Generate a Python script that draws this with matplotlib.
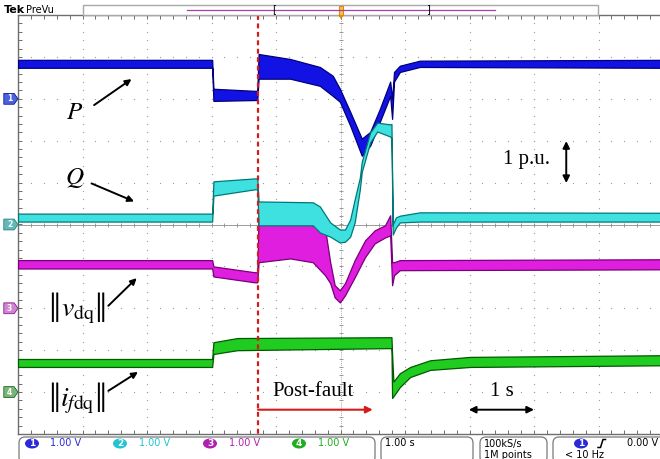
import numpy as np
import matplotlib.pyplot as plt
from matplotlib.patches import FancyBboxPatch, Polygon, Ellipse, Rectangle

plt.rcParams['mathtext.fontset'] = 'stix'

# scope settings
ch_labels = ['1', '2', '3', '4']
ch_offsets = [3.0, 0.0, -2.0, -4.0]          # ground markers, divisions
ch_scales = ['1.00 V', '1.00 V', '1.00 V', '1.00 V']
time_scale = '1.00 s'
sample_rate = '100kS/s'
record_len = '1M points'
trig_level = '0.00 V'
trig_filter = '< 10 Hz'
t_fault = -1.28                                # s, fault instant

ch_core = ['#1212e4', '#3ee0e0', '#e01ee0', '#20cc20']
ch_edge = ['#00007c', '#007878', '#780078', '#005a00']
ch_text = ['#2a2ad8', '#22c4d0', '#b020b0', '#1eae1e']
tag_fill = ['#4a62e0', '#66b8b8', '#d284d2', '#78b478']

# trace envelopes: time (s), lower / upper level (V, relative to ground marker)
p_t = [-5.0, -1.99, -1.97, -1.33, -1.29, -1.27, -0.78, -0.32, -0.12, -0.01,
       0.15, 0.33, 0.46, 0.61, 0.77, 0.80, 0.83, 0.92, 1.23, 5.0]
p_lo = [0.74, 0.74, -0.05, -0.03, -0.03, 0.48, 0.48, 0.31, 0.07, -0.07,
        -0.64, -1.36, -1.12, -0.55, 0.07, -0.48, 0.41, 0.64, 0.76, 0.74]
p_hi = [0.93, 0.93, 0.24, 0.19, 0.19, 1.07, 0.95, 0.76, 0.55, 0.24,
        -0.31, -0.95, -0.79, -0.24, 0.41, 0.0, 0.64, 0.79, 0.91, 0.93]

q_t = [-5.0, -1.99, -1.97, -1.33, -1.29, -1.27, -0.43, -0.32, -0.16, -0.01,
       0.07, 0.15, 0.22, 0.30, 0.33, 0.46, 0.57, 0.77, 0.79, 0.81, 0.86,
       0.92, 1.23, 5.0]
q_lo = [0.07, 0.07, 0.69, 0.84, 0.84, -0.02, -0.02, -0.19, -0.29, -0.43,
        -0.41, -0.29, 0.05, 0.84, 1.26, 1.96, 2.22, 2.10, 2.05, -0.24, -0.07,
        0.05, 0.07, 0.07]
q_hi = [0.26, 0.26, 1.03, 1.10, 1.10, 0.55, 0.53, 0.43, 0.05, -0.12,
        -0.12, 0.12, 0.60, 1.12, 1.50, 2.20, 2.43, 2.39, 2.40, 0.0, 0.17,
        0.21, 0.29, 0.28]

v_t = [-5.0, -1.99, -1.97, -1.33, -1.29, -1.27, -0.78, -0.43, -0.24, -0.16,
       -0.09, -0.01, 0.07, 0.22, 0.38, 0.53, 0.69, 0.77, 0.80, 0.83, 0.92, 5.0]
v_lo = [0.95, 0.95, 0.76, 0.62, 0.62, 1.10, 1.19, 1.10, 0.79, 0.60,
        0.26, 0.14, 0.31, 0.74, 1.22, 1.55, 1.69, 1.74, 0.55, 0.79, 0.91, 0.93]
v_hi = [1.15, 1.15, 1.00, 0.86, 0.86, 2.22, 2.15, 1.98, 1.91, 1.10,
        0.55, 0.43, 0.60, 1.15, 1.62, 1.86, 1.98, 2.22, 1.10, 1.10, 1.15, 1.17]

i_t = [-5.0, -1.99, -1.97, -1.6, 0.79, 0.80, 0.82, 0.92, 1.08, 1.39, 2.01, 5.0]
i_lo = [0.60, 0.60, 0.91, 1.00, 1.05, -0.14, -0.10, 0.12, 0.36, 0.53, 0.60, 0.64]
i_hi = [0.79, 0.79, 1.19, 1.29, 1.31, 0.90, 0.25, 0.45, 0.60, 0.76, 0.84, 0.88]

traces = [(p_t, p_lo, p_hi), (q_t, q_lo, q_hi), (v_t, v_lo, v_hi), (i_t, i_lo, i_hi)]
draw_order = [3, 2, 0, 1]

fig = plt.figure(figsize=(6.6, 4.59), dpi=100)
ax = fig.add_axes([18 / 660, 25 / 459, 645 / 660, 419 / 459])
ax.set_xlim(-5, 5)
ax.set_ylim(-5, 5)
ax.axis('off')

# graticule: dotted grid, centre cross with ticks, ruled edges
minor = np.arange(-5, 5.001, 0.2)
for g in range(-4, 5):
    if g == 0:
        continue
    ax.plot(np.full_like(minor, g), minor, ls='none', marker='o', ms=0.9,
            mec='none', mfc='#9c9c9c', zorder=1)
    ax.plot(minor, np.full_like(minor, g), ls='none', marker='o', ms=0.9,
            mec='none', mfc='#9c9c9c', zorder=1)
ax.axhline(0, color='#8c8c8c', lw=0.6, zorder=1)
ax.axvline(0, color='#8c8c8c', lw=0.6, ls=(0, (1, 1.5)), zorder=1)
ax.plot(minor, np.zeros_like(minor), ls='none', marker='|', ms=3.5, mew=0.6,
        color='#8c8c8c', zorder=1)
ax.plot(np.zeros_like(minor), minor, ls='none', marker='_', ms=3.5, mew=0.6,
        color='#8c8c8c', zorder=1)
ax.plot([-5, 5.2], [5, 5], color='#6e6e6e', lw=1.0, clip_on=False)
ax.plot([-5, 5.2], [-5, -5], color='#6e6e6e', lw=1.0, clip_on=False)
ax.plot([-5, -5], [-5, 5], color='#6e6e6e', lw=1.0, clip_on=False)
ax.plot(minor, np.full_like(minor, 5), ls='none', marker=3, ms=3, mew=0.7,
        color='#6e6e6e', clip_on=False)
ax.plot(minor, np.full_like(minor, -5), ls='none', marker=2, ms=3, mew=0.7,
        color='#6e6e6e', clip_on=False)
ax.plot(np.full_like(minor, -5), minor, ls='none', marker=1, ms=3, mew=0.7,
        color='#6e6e6e', clip_on=False)

# waveforms
for k in draw_order:
    t, lo, hi = traces[k]
    off = ch_offsets[k]
    ax.fill_between(t, np.add(lo, off), np.add(hi, off), facecolor=ch_core[k],
                    edgecolor=ch_edge[k], lw=0.9, zorder=3 + draw_order.index(k))

# ground markers on the left edge
for k, off in enumerate(ch_offsets):
    tag = Polygon([(-5.22, off + 0.13), (-5.06, off + 0.13), (-5.0, off),
                   (-5.06, off - 0.13), (-5.22, off - 0.13)], closed=True,
                  facecolor=tag_fill[k], edgecolor=ch_edge[k], lw=0.5,
                  clip_on=False, zorder=6)
    ax.add_patch(tag)
    ax.text(-5.13, off, ch_labels[k], color='white', fontsize=5.5,
            fontweight='bold', ha='center', va='center', clip_on=False, zorder=7)

# fault instant
ax.plot([t_fault, t_fault], [5, -5.28], color='#d41c1c', lw=1.6,
        ls=(0, (2.2, 1.6)), clip_on=False, zorder=8)

# signal labels
arrow_k = dict(arrowstyle='-|>', color='black', lw=1.4, mutation_scale=9,
               shrinkA=0, shrinkB=0)
ax.text(-4.12, 2.69, r'$P$', fontsize=18, ha='center', va='center')
ax.annotate('', xy=(-3.24, 3.47), xytext=(-3.82, 2.85), arrowprops=arrow_k)
ax.text(-4.12, 1.11, r'$Q$', fontsize=18, ha='center', va='center')
ax.annotate('', xy=(-3.2, 0.55), xytext=(-3.86, 0.98), arrowprops=arrow_k)

# norm labels: tall double bars hugging the symbol on both sides
serif = 'Liberation Serif'
for y, body in [(-2.08, r'$v_{\mathrm{dq}}$'), (-4.22, r'$i_{f\mathrm{dq}}$')]:
    sym = ax.text(-4.08, y, body, fontsize=20, ha='center', va='center')
    ax.annotate('\u2016', xy=(0, 0.5), xycoords=sym, family=serif,
                fontsize=31, ha='right', va='center')
    ax.annotate('\u2016', xy=(1, 0.5), xycoords=sym, family=serif,
                fontsize=31, ha='left', va='center')
ax.annotate('', xy=(-3.16, -1.28), xytext=(-3.60, -1.94), arrowprops=arrow_k)
ax.annotate('', xy=(-3.14, -3.52), xytext=(-3.60, -3.97), arrowprops=arrow_k)

ax.text(-0.43, -3.99, 'Post-fault', family=serif, fontsize=15,
        ha='center', va='center')
ax.annotate('', xy=(0.50, -4.42), xytext=(t_fault, -4.42),
            arrowprops=dict(arrowstyle='-|>', color='#d41c1c', lw=1.5,
                            mutation_scale=10, shrinkA=0, shrinkB=0))
ax.text(2.5, -3.99, '1 s', family=serif, fontsize=15, ha='center', va='center')
ax.annotate('', xy=(3.0, -4.42), xytext=(1.99, -4.42),
            arrowprops=dict(arrowstyle='<|-|>', color='black', lw=1.4,
                            mutation_scale=10, shrinkA=0, shrinkB=0))
ax.text(2.89, 1.54, '1 p.u.', family=serif, fontsize=15, ha='center', va='center')
ax.annotate('', xy=(3.5, 1.99), xytext=(3.5, 0.99),
            arrowprops=dict(arrowstyle='<|-|>', color='black', lw=1.4,
                            mutation_scale=10, shrinkA=0, shrinkB=0))

# status bars, pixel coordinates
ov = fig.add_axes([0, 0, 1, 1])
ov.set_xlim(0, 660)
ov.set_ylim(459, 0)
ov.axis('off')
ov.set_zorder(5)

ov.text(4, 10, 'Tek', fontsize=8, fontweight='bold', va='center')
ov.text(26, 10, 'PreVu', fontsize=7, va='center')
ov.add_patch(Rectangle((83, 5), 515, 10, facecolor='white', edgecolor='#a8a8a8', lw=1.0))
ov.plot([187, 495], [9.5, 9.5], color='#a040a8', lw=0.9)
ov.text(274, 9.5, '[', fontsize=7, ha='center', va='center')
ov.text(428, 9.5, ']', fontsize=7, ha='center', va='center')
ov.add_patch(Rectangle((339, 6), 4, 9, facecolor='#f5c060', edgecolor='#e08a00', lw=0.8))
ov.add_patch(Polygon([(338, 15), (344, 15), (341, 19)], closed=True,
                     facecolor='#e08a00', edgecolor='none'))

box_kw = dict(boxstyle='round,pad=0,rounding_size=6', facecolor='white',
              edgecolor='#7a7a7a', lw=0.9)
ov.add_patch(FancyBboxPatch((19, 437), 356, 26, **box_kw))
ov.add_patch(FancyBboxPatch((381, 437), 92, 26, **box_kw))
ov.add_patch(FancyBboxPatch((480, 437), 67, 26, **box_kw))
ov.add_patch(FancyBboxPatch((553, 437), 120, 26, **box_kw))

badge_x = [32, 120, 210, 299]
text_x = [50, 139, 229, 318]
for k in range(4):
    ov.add_patch(Ellipse((badge_x[k], 443.5), 14, 10, facecolor=ch_text[k],
                         edgecolor='none'))
    ov.text(badge_x[k], 443.5, ch_labels[k], color='white', fontsize=6.5,
            fontweight='bold', ha='center', va='center')
    ov.text(text_x[k], 443.5, ch_scales[k], color=ch_text[k], fontsize=7,
            va='center')

ov.text(385, 443.5, time_scale, fontsize=7, va='center')
ov.text(484, 443.5, sample_rate, fontsize=7, va='center')
ov.text(484, 454.5, record_len, fontsize=7, va='center')
ov.add_patch(Ellipse((581, 443.5), 14, 10, facecolor=ch_text[0], edgecolor='none'))
ov.text(581, 443.5, ch_labels[0], color='white', fontsize=6.5, fontweight='bold',
        ha='center', va='center')
ov.plot([598, 600.5, 603, 605.5], [447.5, 447.5, 439.5, 439.5], color='black', lw=1.1)
ov.text(658, 443.5, trig_level, fontsize=7, ha='right', va='center')
ov.text(565, 454.5, trig_filter, fontsize=7, va='center')

fig.savefig('out.png', dpi=100)
